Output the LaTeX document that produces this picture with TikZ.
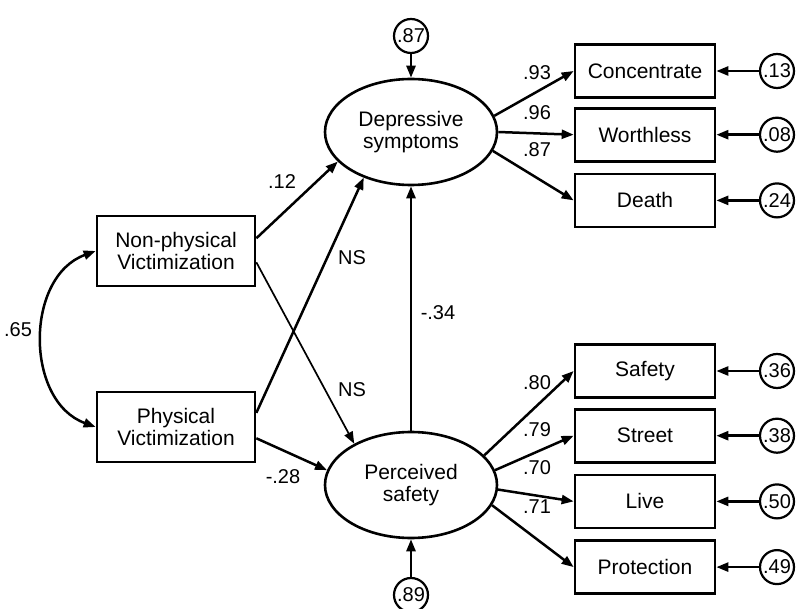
\documentclass[tikz,border=0pt]{standalone}
\usepackage{fontspec}
\setmainfont{Liberation Sans}
\usepackage{tikz}
\usetikzlibrary{arrows.meta, positioning, shapes.geometric}

\begin{document}
\begin{tikzpicture}[
    x=1pt, y=-1pt,
    obsbox/.style={
        rectangle,
        draw,
        line width=2.7pt,
        minimum width=140pt,
        minimum height=53pt,
        inner sep=0pt,
        align=center,
        font=\fontsize{21}{22}\selectfont
    },
    exobox/.style={
        obsbox,
        minimum width=158pt,
        minimum height=70pt
    },
    latent/.style={
        ellipse,
        draw,
        line width=2.6pt,
        minimum width=172pt,
        minimum height=106pt,
        inner sep=0pt,
        align=center,
        font=\fontsize{21}{22}\selectfont
    },
    errc/.style={
        circle,
        draw,
        line width=2.2pt,
        minimum size=34pt,
        inner sep=0pt,
        font=\fontsize{20}{20}\selectfont
    },
    coef/.style={
        inner sep=0pt,
        font=\fontsize{20}{20}\selectfont
    },
    path/.style={
        -{Triangle[length=12pt, width=9pt]},
        line width=2.5pt
    },
    thinpath/.style={
        path,
        line width=1.7pt
    }
]
\useasboundingbox (0,0) rectangle (798,609);

% === Exogenous Variables ===
\node[exobox] (nonphys) at (176,251) {Non-physical\\Victimization};
\node[exobox] (phys) at (176,427) {Physical\\Victimization};

% === Latent Variables ===
\node[latent] (depr) at (411,132) {Depressive\\symptoms};
\node[latent] (safe) at (411,485) {Perceived\\safety};

% === Indicators ===
\node[obsbox] (concentrate) at (645,71) {Concentrate};
\node[obsbox, below=8pt of concentrate] (worthless) {Worthless};
\node[obsbox, below=10pt of worthless] (death) {Death};
\node[obsbox] (safety) at (645,371) {Safety};
\node[obsbox, below=9pt of safety] (street) {Street};
\node[obsbox, below=10pt of street] (live) {Live};
\node[obsbox, below=10pt of live] (protection) {Protection};

% === Error Terms ===
\node[errc] (e87) at (411,36) {.87};
\node[errc] (e89) at (411,595) {.89};
\node[errc] (e13) at (777,0 |- concentrate) {.13};
\node[errc] (e08) at (777,0 |- worthless) {.08};
\node[errc] (e24) at (777,0 |- death) {.24};
\node[errc] (e36) at (777,0 |- safety) {.36};
\node[errc] (e38) at (777,0 |- street) {.38};
\node[errc] (e50) at (777,0 |- live) {.50};
\node[errc] (e49) at (777,0 |- protection) {.49};

% === Structural Paths ===
\draw[path] (nonphys.9) -- (depr.202);
\draw[thinpath] (nonphys.-8) -- (safe.144);
\draw[path] (phys.10) -- (depr.224);
\draw[path] (phys.-8) -- (safe.170);
\draw[path] (safe.north) -- (depr.south);
\draw[{Triangle[length=12pt, width=9pt]}-{Triangle[length=12pt, width=9pt]}, line width=2.5pt]
    (nonphys.west) to[bend right=70, looseness=1.1] (phys.west);

% === Measurement Paths ===
\draw[path] (depr.11) -- (concentrate.west);
\draw[path] (depr.east) -- (worthless.west);
\draw[path] (depr.-13) -- (death.west);
\draw[path] (safe.22) -- (safety.west);
\draw[path] (safe.10) -- (street.west);
\draw[path] (safe.-3) -- (live.west);
\draw[path] (safe.-14) -- (protection.west);

% === Error Arrows ===
\draw[path] (e87) -- (depr);
\draw[path] (e89) -- (safe);
\foreach \e/\v in {e13/concentrate, e08/worthless, e24/death, e36/safety, e38/street, e50/live, e49/protection}
    \draw[path] (\e) -- (\v);

% === Coefficients ===
\node[coef] (c65) at (18,330) {.65};
\node[coef] (c12) at (282,182) {.12};
\node[coef] (cns1) at (352,258) {NS};
\node[coef] (cns2) at (352,390) {NS};
\node[coef] (c28) at (283,477) {-.28};
\node[coef] (c34) at (438,313) {-.34};
\node[coef] (c93) at (537,73) {.93};
\node[coef] (c96) at (537,113) {.96};
\node[coef] (c87) at (537,150) {.87};
\node[coef] (c80) at (537,383) {.80};
\node[coef] (c79) at (537,430) {.79};
\node[coef] (c70) at (537,468) {.70};
\node[coef] (c71) at (537,507) {.71};
\end{tikzpicture}
\end{document}
